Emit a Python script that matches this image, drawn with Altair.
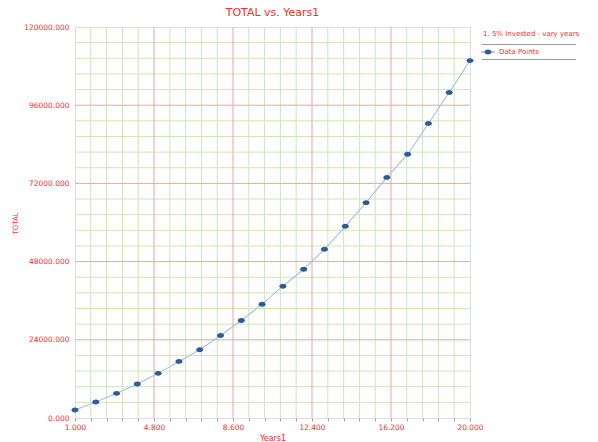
import altair as alt
import numpy as np
import pandas as pd

# Investment total by number of years
years = list(range(1, 21))
total = [2450, 4900, 7570, 10420, 13700, 17370, 20930, 25340, 29940, 34930,
         40450, 45650, 51780, 58830, 66090, 73840, 80950, 90390, 99890, 109690]

# Axis tick values
x_major = [1.0, 4.8, 8.6, 12.4, 16.2, 20.0]
y_major = [0, 24000, 48000, 72000, 96000, 120000]

def subdivide(major, n=5):
    out = []
    for a, b in zip(major[:-1], major[1:]):
        out.extend(np.linspace(a, b, n + 1)[1:-1].tolist())
    return out

x_minor = subdivide(x_major)
y_minor = subdivide(y_major)

RED = "#ff2b2b"
MAJOR = "#f4a0a0"
MINOR = "#cde6b6"
FONT = "DejaVu Sans"

df = pd.DataFrame({"Years1": years, "TOTAL": total})

xs = alt.Scale(domain=[1, 20], nice=False, zero=False)
ys = alt.Scale(domain=[0, 120000], nice=False)

x_ticks = sorted(x_major + x_minor)

x_axis = alt.Axis(values=x_ticks, format=".3f", grid=False, domain=False,
                  labelExpr="indexof([1,4.8,8.6,12.4,16.2,20], round(datum.value*10)/10) >= 0 ? datum.label : ''",
                  tickSize=3, tickColor="#a0a0a0", labelColor=RED, labelFont=FONT,
                  labelFontSize=7.5, labelPadding=2, labelFlush=False,
                  title="Years1", titleColor=RED, titleFont=FONT, titleFontSize=8,
                  titleFontWeight="normal", titlePadding=4)
y_axis = alt.Axis(values=y_major, format=".3f", grid=False, domain=False, ticks=False,
                  labelColor=RED, labelFont=FONT, labelFontSize=7.5, labelPadding=6,
                  title="TOTAL", titleColor=RED, titleFont=FONT, titleFontSize=7,
                  titleFontWeight="normal", titleX=-57, titleY=196)

# Grid lines (plot edges are left to the gray frame)
gx_minor = alt.Chart(pd.DataFrame({"Years1": x_minor})).mark_rule(color=MINOR, strokeWidth=1).encode(
    x=alt.X("Years1:Q", scale=xs, axis=x_axis))
gy_minor = alt.Chart(pd.DataFrame({"TOTAL": y_minor})).mark_rule(color=MINOR, strokeWidth=1).encode(
    y=alt.Y("TOTAL:Q", scale=ys, axis=y_axis))
gx_major = alt.Chart(pd.DataFrame({"Years1": x_major[1:-1]})).mark_rule(color=MAJOR, strokeWidth=1).encode(
    x=alt.X("Years1:Q", scale=xs, axis=x_axis))
gy_major = alt.Chart(pd.DataFrame({"TOTAL": y_major[1:-1]})).mark_rule(color=MAJOR, strokeWidth=1).encode(
    y=alt.Y("TOTAL:Q", scale=ys, axis=y_axis))

base = alt.Chart(df).encode(
    x=alt.X("Years1:Q", scale=xs, axis=x_axis),
    y=alt.Y("TOTAL:Q", scale=ys, axis=y_axis),
)
line = base.mark_line(color="#a4c1e2", strokeWidth=1.1)
ellipse = "M-1,0 A1,0.7 0 1,0 1,0 A1,0.7 0 1,0 -1,0 Z"
points = base.mark_point(shape=ellipse, size=49, filled=True, color="#2d5b99", opacity=1)

# Legend drawn beside the plot
legend_title = alt.Chart(pd.DataFrame({"t": ["1. 5% Invested - vary years"]})).mark_text(
    align="left", baseline="middle", color=RED, font=FONT, fontSize=7).encode(
    text="t:N", x=alt.value(408), y=alt.value(7))
sep1 = alt.Chart(pd.DataFrame({"a": [0]})).mark_rule(color="#9a9a9a", strokeWidth=1).encode(
    x=alt.value(407), x2=alt.value(501), y=alt.value(17.5))
sep2 = alt.Chart(pd.DataFrame({"a": [0]})).mark_rule(color="#9a9a9a", strokeWidth=1).encode(
    x=alt.value(407), x2=alt.value(501), y=alt.value(32.5))
sym_line = alt.Chart(pd.DataFrame({"a": [0]})).mark_rule(color="#6f8fbf", strokeWidth=1).encode(
    x=alt.value(406), x2=alt.value(420), y=alt.value(25))
sym_pt = alt.Chart(pd.DataFrame({"a": [0]})).mark_point(
    shape=ellipse, size=49, filled=True, color="#2d5b99", opacity=1).encode(
    x=alt.value(413), y=alt.value(25))
sym_text = alt.Chart(pd.DataFrame({"t": ["Data Points"]})).mark_text(
    align="left", baseline="middle", color=RED, font=FONT, fontSize=7).encode(
    text="t:N", x=alt.value(424), y=alt.value(25))

chart = alt.layer(
    gx_minor, gy_minor, gx_major, gy_major, line, points,
    legend_title, sep1, sep2, sym_line, sym_pt, sym_text,
).properties(
    width=395, height=391,
    title=alt.TitleParams("TOTAL vs. Years1", color=RED, font=FONT, fontSize=11,
                          fontWeight="normal", anchor="middle", offset=5),
    autosize=alt.AutoSizeParams(type="none"),
    padding={"left": 75, "top": 27, "right": 128, "bottom": 24},
).configure_view(
    stroke="#b0b0b0", strokeWidth=1.5
).configure(background="white")

chart.save("out.html", embed_options={"renderer": "svg", "actions": False})
